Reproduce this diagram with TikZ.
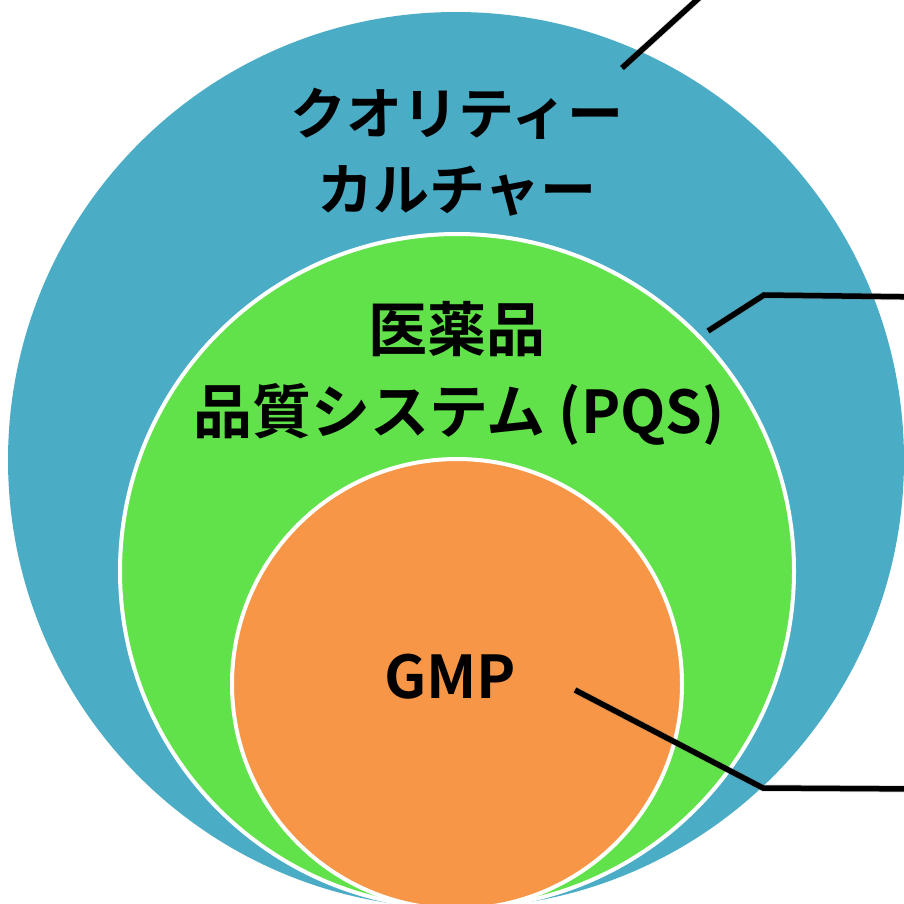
\documentclass[tikz,border=0pt]{standalone}
\usepackage{fontspec}
\newfontfamily\jp{Noto Sans CJK JP Bold}
\definecolor{cblue}{HTML}{4BACC6}
\definecolor{cgreen}{HTML}{62E24A}
\definecolor{corange}{HTML}{F79646}
\begin{document}
\begin{tikzpicture}[x=1pt,y=-1pt,
  ring/.style={draw=white,line width=4pt},
  txtA/.style={font=\jp\fontsize{56}{60}\selectfont,anchor=base,inner sep=0pt},
  txtB/.style={font=\jp\fontsize{59}{66}\selectfont,anchor=base,inner sep=0pt},
  leader/.style={draw=black,line width=5.5pt,line join=miter},
  leadshadow/.style={draw=black!60,opacity=0.25,line width=7pt}]
\useasboundingbox (0,0) rectangle (904,904);
\begin{scope}
\clip (0,0) rectangle (904,904);
% circles
\coordinate (cb) at (456,460);
\coordinate (cg) at (457,571);
\coordinate (co) at (457,684);
\fill[cblue] (cb) circle[radius=448];
\filldraw[cgreen,ring] (cg) circle[radius=337];
\filldraw[corange,ring] (co) circle[radius=225];
% texts
\node[txtA] (t1) at (457,135) {クオリティー};
\node[txtA] (t2) at (457,210) {カルチャー};
\node[txtB] (t3) at (457,351) {医薬品};
\node[txtB] (t4) at (459,433) {品質システム (PQS)};
\node[txtB,font=\jp\fontsize{59}{66}\selectfont] (t5) at (450,698) {GMP};
% leader lines
\coordinate (q1) at (622,68);
\coordinate (q2) at (710,-12);
\coordinate (p1) at (708,331);
\coordinate (p2) at (764,295);
\coordinate (p3) at (920,297);
\coordinate (g1) at (575,690);
\coordinate (g2) at (763,788);
\coordinate (g3) at (920,789);
\begin{scope}[shift={(2,3)}]
\draw[leadshadow] (q1) -- (q2);
\draw[leadshadow] (p1) -- (p2) -- (p3);
\draw[leadshadow] (g1) -- (g2) -- (g3);
\end{scope}
\draw[leader] (q1) -- (q2);
\draw[leader] (p1) -- (p2) -- (p3);
\draw[leader] (g1) -- (g2) -- (g3);
\end{scope}
\end{tikzpicture}
\end{document}
